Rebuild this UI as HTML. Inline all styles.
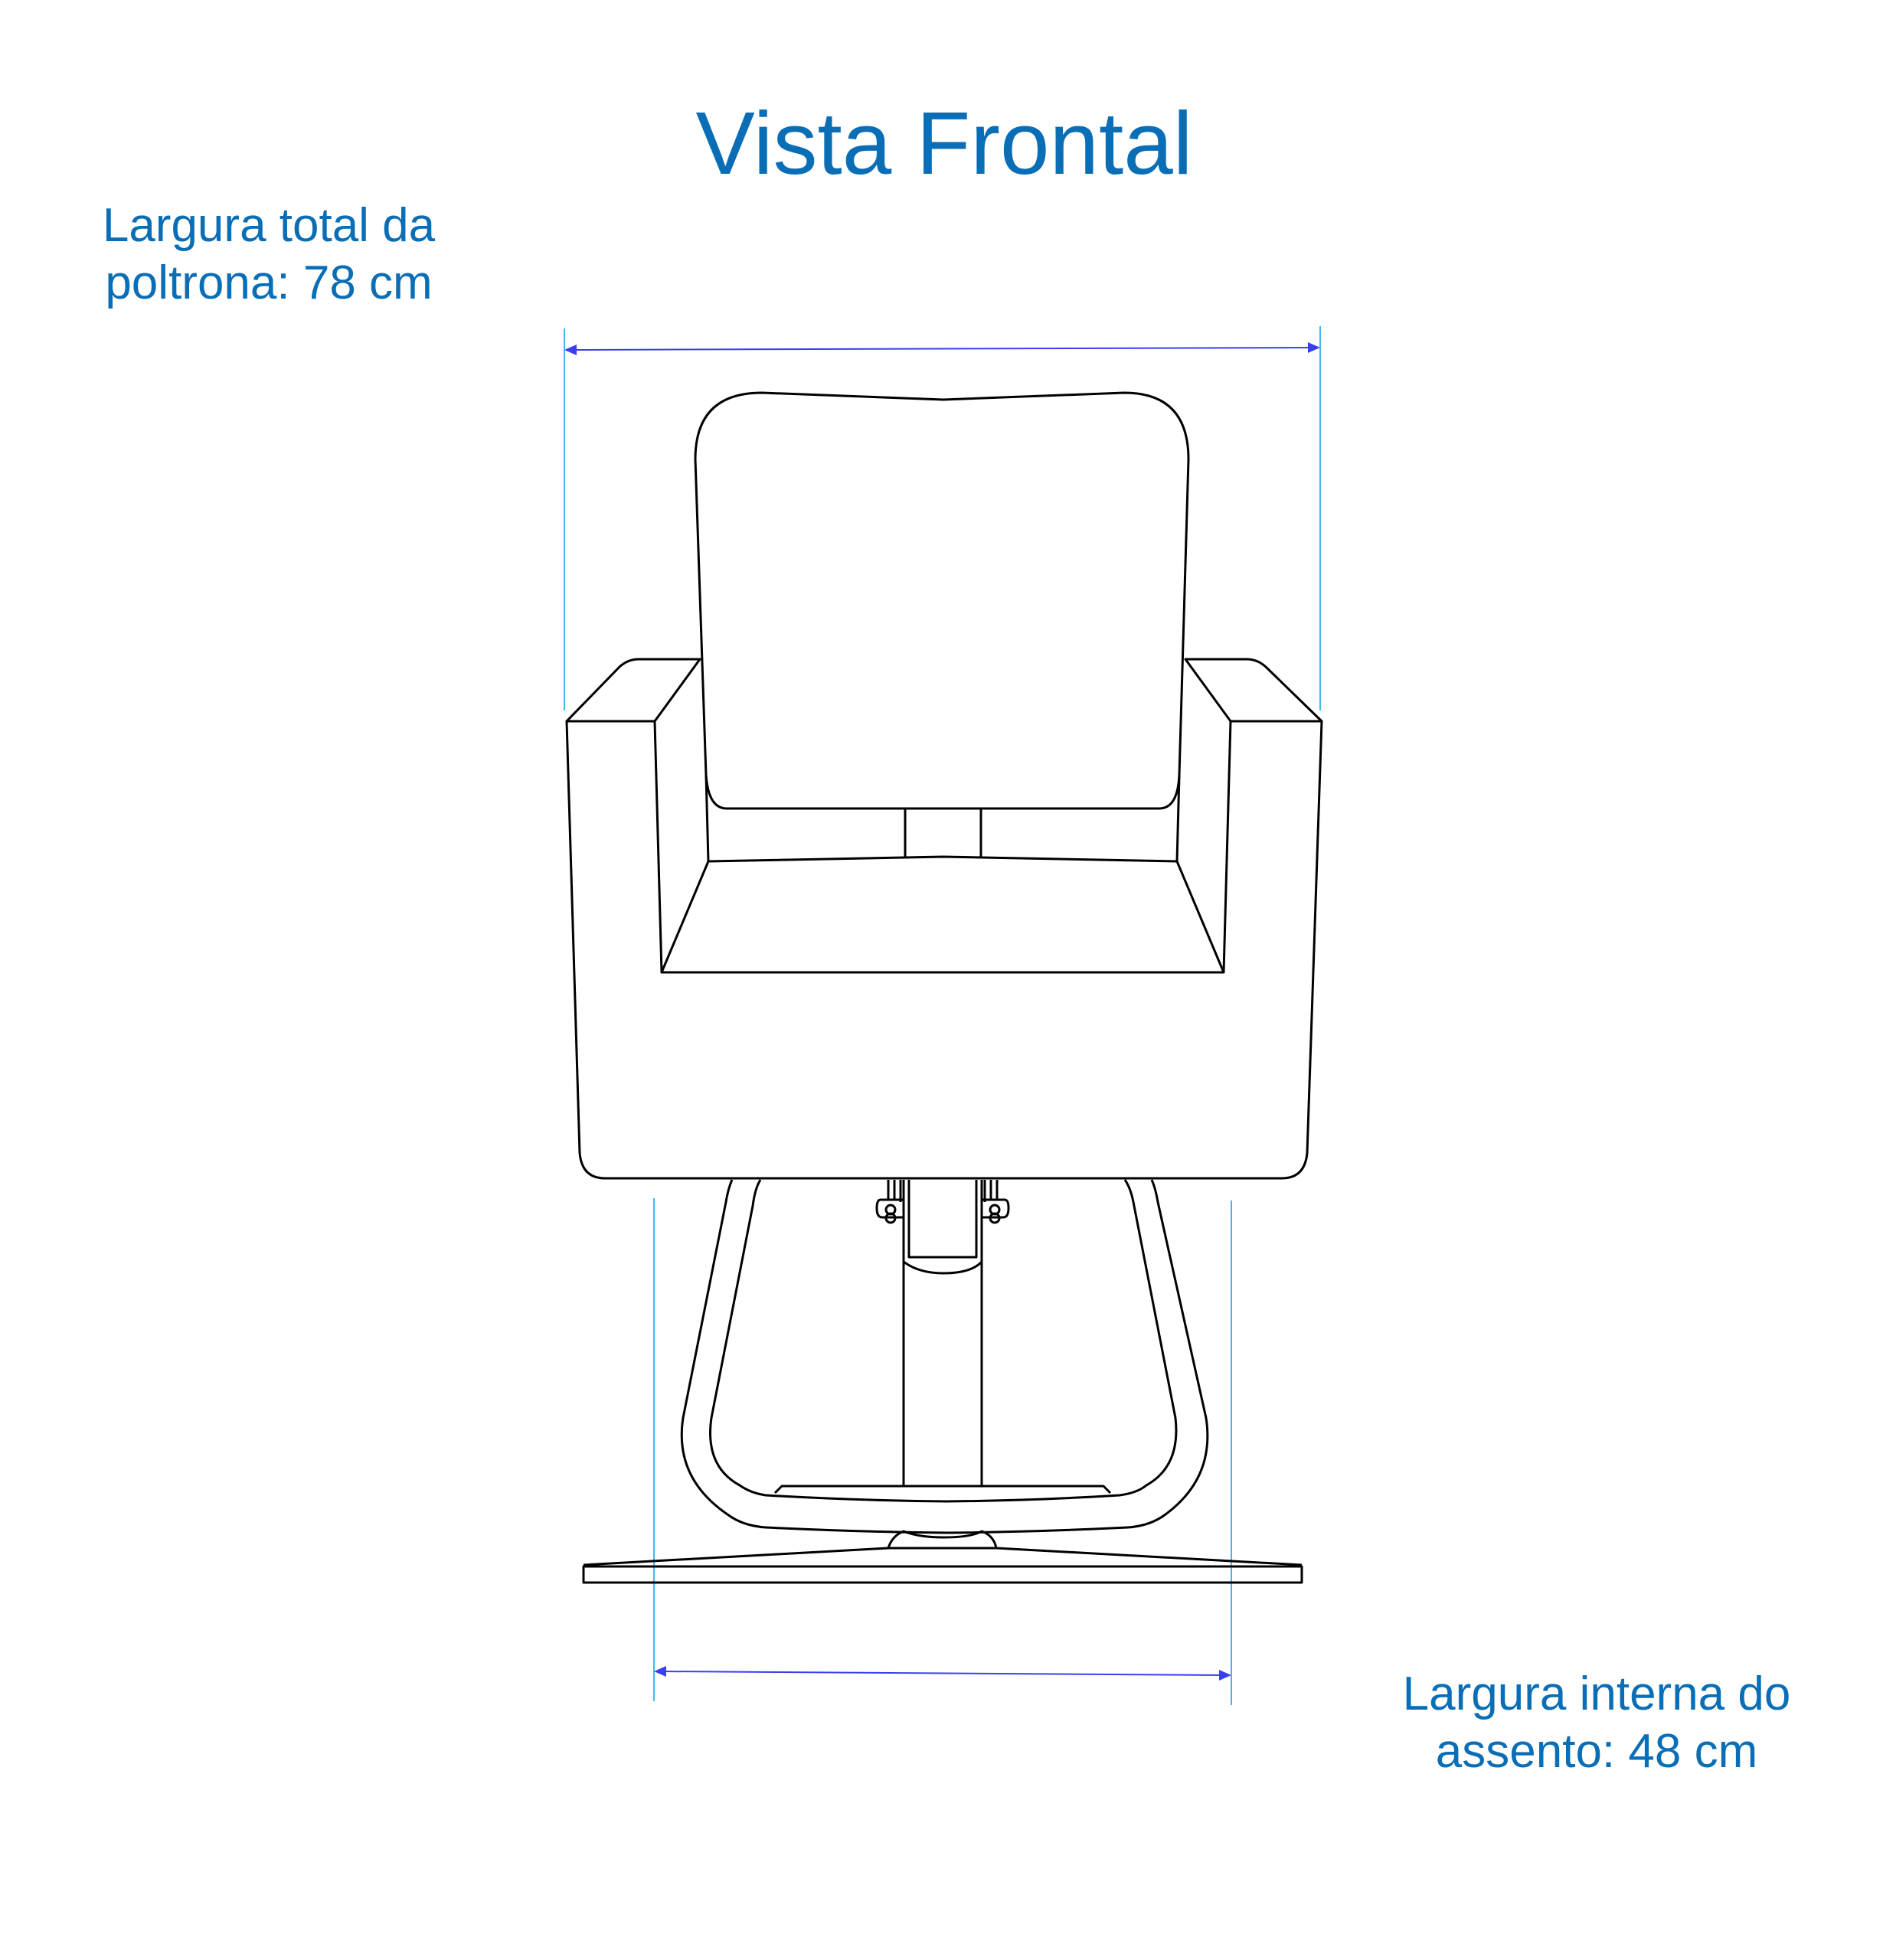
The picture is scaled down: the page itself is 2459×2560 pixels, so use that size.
<!DOCTYPE html>
<html><head><meta charset="utf-8"><style>
html,body{margin:0;padding:0;background:#fff;}
svg{display:block}
text{font-family:"Liberation Sans",sans-serif;fill:#0a6eb6;}
</style></head><body>
<svg width="2459" height="2560" viewBox="0 0 2459 2560" xmlns="http://www.w3.org/2000/svg">
<rect width="2459" height="2560" fill="#fff"/>
<text x="1233" y="227" font-size="116" text-anchor="middle">Vista Frontal</text>
<text x="351" y="315" font-size="62" text-anchor="middle">Largura total da</text>
<text x="351" y="390" font-size="62" text-anchor="middle">poltrona: 78 cm</text>
<text x="2085" y="2233" font-size="62" text-anchor="middle">Largura interna do</text>
<text x="2085" y="2308" font-size="62" text-anchor="middle">assento: 48 cm</text>

<g stroke="#4ab4e6" stroke-width="2" fill="none">
<line x1="737" y1="429" x2="737" y2="928"/>
<line x1="1724" y1="426" x2="1724" y2="928"/>
<line x1="854" y1="1565" x2="854" y2="2222"/>
<line x1="1608" y1="1568" x2="1608" y2="2227"/>
</g>
<g stroke="#3a3ef0" stroke-width="2" fill="#3a3ef0">
<line x1="745" y1="457" x2="1716" y2="454"/>
<polygon points="737,457 753,450 753,464" stroke="none"/>
<polygon points="1724,454 1708,447 1708,461" stroke="none"/>
<line x1="862" y1="2183" x2="1600" y2="2188"/>
<polygon points="854,2183 870,2176 870,2190" stroke="none"/>
<polygon points="1608,2188 1592,2181 1592,2195" stroke="none"/>
</g>

<g stroke="#000" stroke-width="3" fill="none" stroke-linejoin="round">
<path d="M922,1012 L908,600 Q908,513 995,513 L1232,522 L1468,513 Q1552,513 1552,600 L1540,1012 Q1538,1056 1514,1056 L949,1056 Q925,1056 922,1012 Z"/>
<line x1="922" y1="1012" x2="925" y2="1125"/>
<line x1="1540" y1="1012" x2="1537" y2="1125"/>
<line x1="1182" y1="1056" x2="1182" y2="1119"/>
<line x1="1281" y1="1056" x2="1281" y2="1119"/>
<path d="M925,1125 L1232,1119 L1537,1125 L1598,1270 L864,1270 Z"/>
<path d="M914,861 L834,861 Q820,861 809,871 L740,942 L855,942 Z"/>
<line x1="855" y1="942" x2="864" y2="1270"/>
<path d="M1548,861 L1628,861 Q1642,861 1653,871 L1726,942 L1607,942 Z"/>
<line x1="1607" y1="942" x2="1598" y2="1270"/>
<path d="M740,942 L757,1506 Q760,1539 790,1539 L1674,1539 Q1704,1539 1707,1506 L1726,942"/>
<path d="M956,1541 Q951,1552 948,1570 L892,1852 Q880,1930 950,1978 Q970,1993 1000,1995 Q1120,2001 1236,2002 Q1350,2001 1473,1995 Q1502,1993 1522,1978 Q1587,1930 1575,1852 L1512,1570 Q1509,1552 1504,1541"/>
<path d="M993,1541 Q986,1552 983,1575 L929,1852 Q920,1915 966,1940 Q980,1950 1000,1953 Q1120,1960 1236,1961 Q1350,1960 1462,1953 Q1485,1950 1497,1940 Q1542,1915 1535,1852 L1481,1575 Q1477,1552 1469,1541"/>
<path d="M1012,1950 L1021,1941 L1441,1941 L1450,1950"/>
<line x1="1180" y1="1541" x2="1180" y2="1941"/>
<line x1="1282" y1="1541" x2="1282" y2="1941"/>
<path d="M1187,1541 L1187,1642 L1275,1642 L1275,1541"/>
<path d="M1180,1648 Q1200,1663 1232,1663 Q1268,1663 1282,1648"/>
<path d="M1160,1541 L1160,1567 M1168,1541 L1168,1567 M1176,1541 L1176,1570"/>
<path d="M1302,1541 L1302,1567 M1294,1541 L1294,1567 M1286,1541 L1286,1570"/>
<path d="M1150,1567 L1180,1567 L1180,1590 L1152,1590 Q1145,1590 1145,1578 Q1145,1567 1150,1567 Z"/>
<path d="M1312,1567 L1282,1567 L1282,1590 L1310,1590 Q1317,1590 1317,1578 Q1317,1567 1312,1567 Z"/>
<circle cx="1163" cy="1580" r="6"/><circle cx="1299" cy="1580" r="6"/>
<circle cx="1163" cy="1591" r="6"/><circle cx="1299" cy="1591" r="6"/>
<path d="M1160,2022 Q1165,2006 1180,2000 Q1200,2008 1232,2008 Q1268,2008 1282,2000 Q1298,2006 1301,2022"/>
<path d="M762,2044 L1160,2022 L1301,2022 L1700,2044"/>
<rect x="762" y="2046" width="938" height="21"/>
</g>
</svg>
</body></html>
